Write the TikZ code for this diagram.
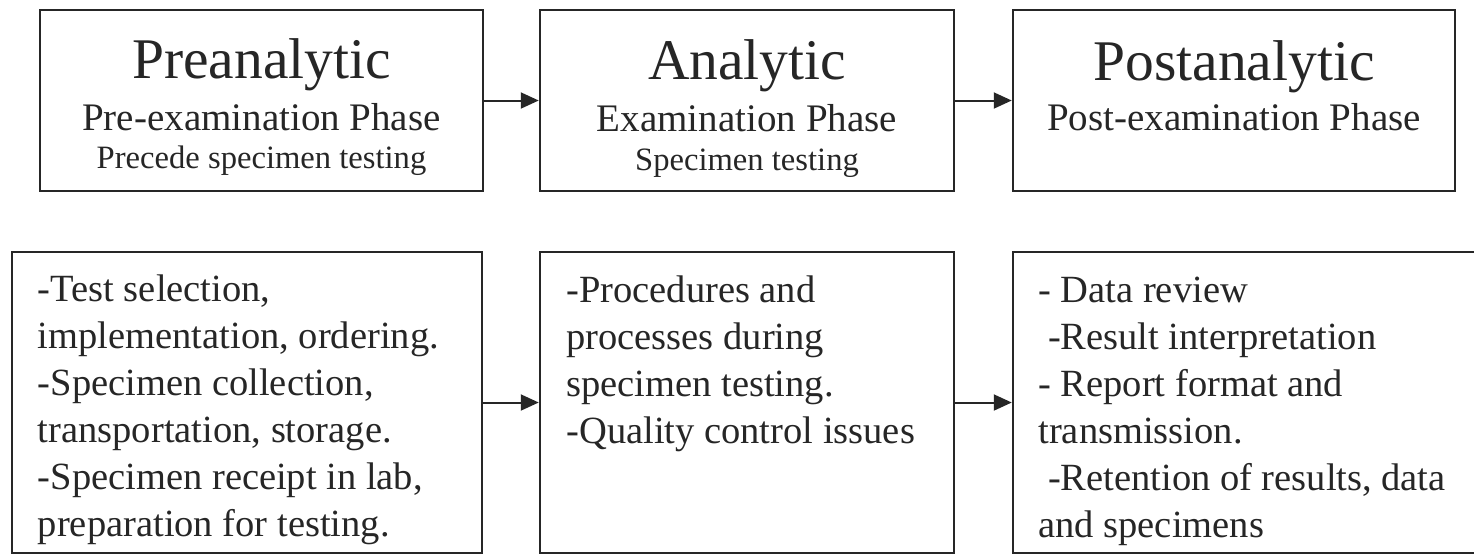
\documentclass[tikz,border=0pt]{standalone}
\usepackage{fontspec}
\setmainfont{Liberation Serif}
\usetikzlibrary{arrows.meta}
\tikzset{
  phasebox/.style={draw=black!85, line width=1.25pt, inner sep=0pt, fill=white},
  titletxt/.style={inner sep=0pt, anchor=base, font=\fontsize{28.75}{30}\selectfont, text=black!85},
  subtxt/.style={inner sep=0pt, anchor=base, font=\fontsize{19.5}{22}\selectfont, text=black!85},
  smalltxt/.style={inner sep=0pt, anchor=base, font=\fontsize{16.3}{19}\selectfont, text=black!85},
  bodytxt/.style={inner sep=0pt, anchor=base west, align=left, font=\fontsize{19.25}{23.5}\selectfont, text=black!85},
  flow/.style={draw=black!85, line width=1pt, -{Triangle[length=9pt,width=8pt]}}
}
\begin{document}
\begin{tikzpicture}[x=0.5pt,y=-0.5pt]
\clip (0,0) rectangle (1474,554);
\fill[white] (0,0) rectangle (1474,554);
% top row boxes
\node[phasebox, minimum width=221.5pt, minimum height=90.5pt] (pre) at (261.5,100.5) {};
\node[phasebox, minimum width=207pt, minimum height=90.5pt] (ana) at (747,100.5) {};
\node[phasebox, minimum width=221pt, minimum height=90.5pt] (post) at (1234,100.5) {};
% bottom row boxes
\node[phasebox, minimum width=235pt, minimum height=150.5pt] (preb) at (247,402.5) {};
\node[phasebox, minimum width=207pt, minimum height=150.5pt] (anab) at (747,402.5) {};
\node[phasebox, minimum width=243.5pt, minimum height=150.5pt] (postb) at (1256.5,402.5) {};
% top texts
\node[titletxt] (preT) at (261.5,78) {Preanalytic};
\node[subtxt] (preS) at (261.5,130) {Pre-examination Phase};
\node[smalltxt] (preU) at (261.5,168) {Precede specimen testing};
\node[titletxt] (anaT) at (747,79) {Analytic};
\node[subtxt] (anaS) at (747,131) {Examination Phase};
\node[smalltxt] (anaU) at (747,170) {Specimen testing};
\node[titletxt] (postT) at (1234,80) {Postanalytic};
\node[subtxt] (postS) at (1234,130) {Post-examination Phase};
% bottom texts (anchor = baseline of last line)
\node[bodytxt] (preL) at (37.5,536) {-Test selection,\\implementation, ordering.\\-Specimen collection,\\transportation, storage.\\-Specimen receipt in lab,\\preparation for testing.};
\node[bodytxt] (anaL) at (566,443) {-Procedures and\\processes during\\specimen testing.\\-Quality control issues};
\node[bodytxt] (postL) at (1038,537) {- Data review\\\ -Result interpretation\\- Report format and\\transmission.\\\ -Retention of results, data\\and specimens};
% arrows
\draw[flow] (pre.east) -- (ana.west);
\draw[flow] (ana.east) -- (post.west);
\draw[flow] (preb.east) -- (anab.west);
\draw[flow] (anab.east) -- (postb.west);
\end{tikzpicture}
\end{document}
